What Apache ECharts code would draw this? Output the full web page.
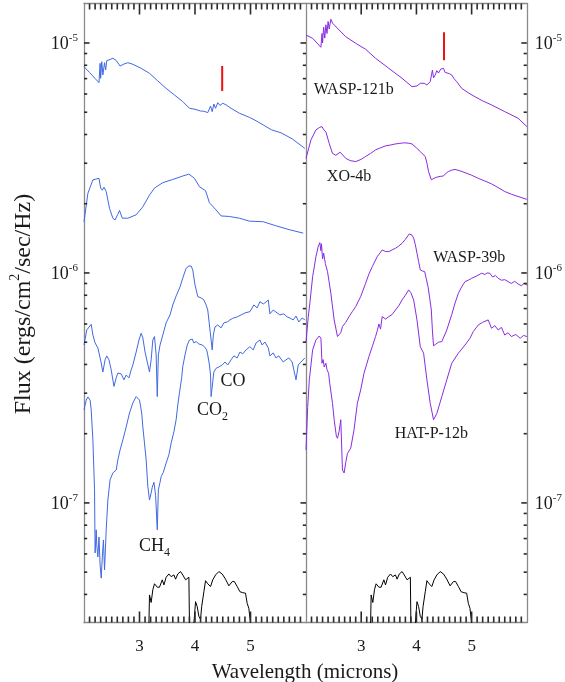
<!DOCTYPE html>
<html>
<head>
<meta charset="utf-8">
<title>Emission spectra</title>
<script src="https://cdn.jsdelivr.net/npm/echarts@6/dist/echarts.min.js"></script>
<style>
html, body { margin: 0; padding: 0; background: #ffffff; }
#chart { width: 565px; height: 682px; }
</style>
</head>
<body>
<div id="chart"></div>
<script>
// Spectra as [wavelength (microns), flux (ergs/cm^2/sec/Hz)]

// Left panel (blue)
const blueWasp121b = [[2.00,7.89e-6],[2.10,7.44e-6],[2.20,7.01e-6],[2.27,6.72e-6],[2.29,8.16e-6],[2.30,7.02e-6],[2.32,8.29e-6],[2.34,7.26e-6],[2.37,8.21e-6],[2.39,7.63e-6],[2.41,8.38e-6],[2.45,8.44e-6],[2.52,8.58e-6],[2.58,8.40e-6],[2.65,7.94e-6],[2.72,8.10e-6],[2.79,8.21e-6],[2.88,8.08e-6],[3.03,7.76e-6],[3.18,7.38e-6],[3.33,6.84e-6],[3.48,6.35e-6],[3.63,5.94e-6],[3.78,5.56e-6],[3.90,5.20e-6],[4.00,5.15e-6],[4.10,5.06e-6],[4.16,5.05e-6],[4.23,4.98e-6],[4.28,5.32e-6],[4.31,5.03e-6],[4.34,5.43e-6],[4.37,5.20e-6],[4.41,5.50e-6],[4.45,5.35e-6],[4.50,5.47e-6],[4.56,5.38e-6],[4.65,5.20e-6],[4.80,4.95e-6],[4.98,4.75e-6],[5.10,4.59e-6],[5.23,4.40e-6],[5.38,4.19e-6],[5.55,4.07e-6],[5.75,3.83e-6],[5.98,3.48e-6]];

const blueXO4b = [[2.00,1.67e-6],[2.07,2.22e-6],[2.16,2.54e-6],[2.27,2.58e-6],[2.30,2.34e-6],[2.33,2.29e-6],[2.36,2.36e-6],[2.40,2.26e-6],[2.46,1.91e-6],[2.52,1.73e-6],[2.56,1.70e-6],[2.61,1.80e-6],[2.64,1.87e-6],[2.69,1.73e-6],[2.79,1.73e-6],[2.94,1.79e-6],[3.06,1.94e-6],[3.18,2.18e-6],[3.27,2.34e-6],[3.42,2.47e-6],[3.60,2.55e-6],[3.78,2.64e-6],[3.89,2.69e-6],[3.99,2.58e-6],[4.08,2.37e-6],[4.19,2.28e-6],[4.26,2.02e-6],[4.38,1.88e-6],[4.47,1.77e-6],[4.62,1.76e-6],[4.80,1.73e-6],[4.98,1.68e-6],[5.23,1.67e-6],[5.47,1.60e-6],[5.71,1.54e-6],[5.95,1.49e-6]];

const blueWasp39b = [[2.00,4.86e-7],[2.05,5.65e-7],[2.13,5.98e-7],[2.16,5.37e-7],[2.20,4.96e-7],[2.25,4.72e-7],[2.31,4.06e-7],[2.34,3.71e-7],[2.38,4.19e-7],[2.41,4.36e-7],[2.45,4.19e-7],[2.49,3.79e-7],[2.54,3.21e-7],[2.58,3.50e-7],[2.61,3.67e-7],[2.67,3.64e-7],[2.72,3.43e-7],[2.76,3.60e-7],[2.81,3.50e-7],[2.85,3.79e-7],[2.88,3.98e-7],[2.94,4.53e-7],[2.99,5.11e-7],[3.03,5.47e-7],[3.06,5.22e-7],[3.10,4.53e-7],[3.14,4.10e-7],[3.18,3.71e-7],[3.21,4.19e-7],[3.24,5.11e-7],[3.27,5.29e-7],[3.30,4.40e-7],[3.32,2.90e-7],[3.34,4.40e-7],[3.37,4.86e-7],[3.42,5.37e-7],[3.48,6.07e-7],[3.55,6.57e-7],[3.60,7.26e-7],[3.66,7.94e-7],[3.73,8.69e-7],[3.78,9.51e-7],[3.84,1.048e-6],[3.89,1.072e-6],[3.93,1.072e-6],[3.96,1.031e-6],[4.00,8.87e-7],[4.05,7.89e-7],[4.11,7.79e-7],[4.16,7.63e-7],[4.20,7.26e-7],[4.23,6.90e-7],[4.26,5.94e-7],[4.29,5.11e-7],[4.31,4.63e-7],[4.33,5.37e-7],[4.36,5.82e-7],[4.41,5.94e-7],[4.47,5.77e-7],[4.52,6.07e-7],[4.58,6.12e-7],[4.63,6.25e-7],[4.68,6.35e-7],[4.76,6.44e-7],[4.83,6.57e-7],[4.90,6.70e-7],[4.99,6.79e-7],[5.06,7.26e-7],[5.12,7.05e-7],[5.17,7.50e-7],[5.23,7.33e-7],[5.28,7.48e-7],[5.32,7.63e-7],[5.35,6.64e-7],[5.41,6.90e-7],[5.48,6.70e-7],[5.53,6.57e-7],[5.60,6.64e-7],[5.66,6.44e-7],[5.71,6.37e-7],[5.77,6.25e-7],[5.82,6.50e-7],[5.87,6.12e-7],[5.93,6.37e-7],[5.98,6.25e-7]];

const blueHatP12b = [[2.00,2.54e-7],[2.04,2.80e-7],[2.07,2.89e-7],[2.11,2.80e-7],[2.13,2.54e-7],[2.16,1.88e-7],[2.19,1.14e-7],[2.20,6.06e-8],[2.22,7.64e-8],[2.23,6.57e-8],[2.25,5.82e-8],[2.27,7.11e-8],[2.29,5.37e-8],[2.31,4.71e-8],[2.33,5.82e-8],[2.35,6.90e-8],[2.37,5.11e-8],[2.40,7.64e-8],[2.43,1.03e-7],[2.47,1.26e-7],[2.52,1.35e-7],[2.58,1.39e-7],[2.61,1.54e-7],[2.65,1.70e-7],[2.70,1.88e-7],[2.76,2.14e-7],[2.82,2.46e-7],[2.88,2.72e-7],[2.94,2.90e-7],[2.97,2.95e-7],[3.00,2.80e-7],[3.04,2.46e-7],[3.06,2.14e-7],[3.09,1.82e-7],[3.12,1.54e-7],[3.15,1.18e-7],[3.18,1.03e-7],[3.21,1.105e-7],[3.23,1.17e-7],[3.26,1.23e-7],[3.29,1.08e-7],[3.32,7.64e-8],[3.34,1.14e-7],[3.37,1.23e-7],[3.39,1.30e-7],[3.43,1.36e-7],[3.48,1.49e-7],[3.53,1.62e-7],[3.57,1.82e-7],[3.62,2.04e-7],[3.66,2.30e-7],[3.69,2.67e-7],[3.72,3.01e-7],[3.76,3.50e-7],[3.78,3.92e-7],[3.82,4.40e-7],[3.86,4.86e-7],[3.90,5.11e-7],[3.95,5.16e-7],[3.98,4.96e-7],[4.02,5.03e-7],[4.07,4.91e-7],[4.13,4.86e-7],[4.17,4.78e-7],[4.21,4.63e-7],[4.23,4.40e-7],[4.26,3.98e-7],[4.28,3.60e-7],[4.29,2.90e-7],[4.32,3.36e-7],[4.34,3.71e-7],[4.38,3.85e-7],[4.43,3.90e-7],[4.49,3.98e-7],[4.54,4.10e-7],[4.59,3.98e-7],[4.65,4.19e-7],[4.70,4.36e-7],[4.76,4.27e-7],[4.81,4.53e-7],[4.86,4.45e-7],[4.92,4.63e-7],[4.99,4.78e-7],[5.05,4.63e-7],[5.10,4.96e-7],[5.17,5.11e-7],[5.21,4.86e-7],[5.26,5.01e-7],[5.32,4.72e-7],[5.35,4.36e-7],[5.41,4.49e-7],[5.46,4.27e-7],[5.51,4.36e-7],[5.59,4.10e-7],[5.64,4.19e-7],[5.69,4.27e-7],[5.75,4.10e-7],[5.82,3.43e-7],[5.86,3.98e-7],[5.91,4.10e-7],[5.98,4.27e-7]];

// Right panel (purple)
const purpleWasp121b = [[2.00,1.083e-5],[2.12,1.048e-5],[2.27,9.58e-6],[2.29,1.10e-5],[2.30,1.00e-5],[2.32,1.17e-5],[2.34,1.05e-5],[2.36,1.20e-5],[2.38,1.10e-5],[2.40,1.24e-5],[2.42,1.15e-5],[2.45,1.268e-5],[2.48,1.22e-5],[2.51,1.218e-5],[2.60,1.139e-5],[2.72,1.065e-5],[2.90,9.97e-6],[3.08,9.39e-6],[3.26,8.58e-6],[3.50,7.76e-6],[3.74,7.02e-6],[3.92,6.46e-6],[4.01,6.50e-6],[4.04,6.62e-6],[4.07,6.68e-6],[4.10,6.55e-6],[4.14,6.68e-6],[4.19,6.57e-6],[4.25,6.79e-6],[4.29,7.63e-6],[4.31,7.05e-6],[4.34,7.26e-6],[4.37,7.58e-6],[4.40,7.40e-6],[4.44,7.70e-6],[4.49,7.76e-6],[4.52,7.45e-6],[4.55,7.50e-6],[4.60,7.35e-6],[4.64,7.26e-6],[4.68,7.00e-6],[4.73,6.79e-6],[4.82,6.35e-6],[4.95,6.05e-6],[5.06,5.84e-6],[5.20,5.60e-6],[5.36,5.38e-6],[5.60,5.03e-6],[5.84,4.71e-6],[6.00,4.33e-6]];

const purpleXO4b = [[2.00,3.15e-6],[2.09,3.79e-6],[2.18,4.19e-6],[2.25,4.30e-6],[2.29,4.33e-6],[2.32,4.20e-6],[2.36,4.11e-6],[2.42,3.66e-6],[2.48,3.31e-6],[2.54,3.25e-6],[2.57,3.23e-6],[2.62,3.35e-6],[2.65,3.31e-6],[2.72,3.15e-6],[2.80,3.08e-6],[2.90,3.05e-6],[3.00,3.12e-6],[3.08,3.21e-6],[3.17,3.31e-6],[3.26,3.43e-6],[3.35,3.50e-6],[3.44,3.57e-6],[3.53,3.60e-6],[3.62,3.64e-6],[3.70,3.66e-6],[3.77,3.68e-6],[3.85,3.67e-6],[3.92,3.64e-6],[4.00,3.50e-6],[4.07,3.37e-6],[4.16,3.21e-6],[4.19,3.00e-6],[4.22,2.76e-6],[4.27,2.54e-6],[4.32,2.58e-6],[4.37,2.61e-6],[4.43,2.63e-6],[4.49,2.64e-6],[4.54,2.72e-6],[4.58,2.76e-6],[4.64,2.80e-6],[4.70,2.82e-6],[4.79,2.78e-6],[4.88,2.73e-6],[5.00,2.66e-6],[5.12,2.58e-6],[5.24,2.51e-6],[5.36,2.44e-6],[5.48,2.35e-6],[5.60,2.26e-6],[5.72,2.20e-6],[5.84,2.15e-6],[6.00,2.09e-6]];

const purpleWasp39b = [[2.00,5.00e-7],[2.04,6.40e-7],[2.07,7.40e-7],[2.12,9.63e-7],[2.18,1.177e-6],[2.22,1.30e-6],[2.25,1.355e-6],[2.27,1.25e-6],[2.28,1.34e-6],[2.30,1.15e-6],[2.32,1.22e-6],[2.35,1.10e-6],[2.39,1.013e-6],[2.45,8.16e-7],[2.51,6.25e-7],[2.57,5.29e-7],[2.60,5.20e-7],[2.63,5.50e-7],[2.66,5.84e-7],[2.72,6.10e-7],[2.78,6.46e-7],[2.84,6.80e-7],[2.90,7.14e-7],[2.99,7.89e-7],[3.08,9.02e-7],[3.14,9.90e-7],[3.20,1.065e-6],[3.29,1.177e-6],[3.38,1.259e-6],[3.44,1.24e-6],[3.50,1.238e-6],[3.56,1.26e-6],[3.62,1.28e-6],[3.68,1.31e-6],[3.74,1.346e-6],[3.80,1.40e-6],[3.87,1.478e-6],[3.92,1.46e-6],[3.95,1.416e-6],[3.98,1.33e-6],[4.01,1.219e-6],[4.04,1.12e-6],[4.07,1.031e-6],[4.11,1.02e-6],[4.15,1.013e-6],[4.18,9.40e-7],[4.21,8.72e-7],[4.24,7.80e-7],[4.27,6.90e-7],[4.29,5.60e-7],[4.31,4.82e-7],[4.35,4.90e-7],[4.40,5.00e-7],[4.46,5.03e-7],[4.55,5.65e-7],[4.64,6.60e-7],[4.70,7.40e-7],[4.76,8.16e-7],[4.82,8.70e-7],[4.88,9.17e-7],[4.94,9.30e-7],[5.00,9.48e-7],[5.09,9.70e-7],[5.18,9.97e-7],[5.24,9.85e-7],[5.28,1.00e-6],[5.33,9.97e-7],[5.38,9.60e-7],[5.43,9.75e-7],[5.48,9.48e-7],[5.54,9.30e-7],[5.60,9.35e-7],[5.66,9.17e-7],[5.72,9.00e-7],[5.78,9.20e-7],[5.84,8.96e-7],[5.90,8.80e-7],[5.95,9.00e-7],[6.00,8.87e-7]];

const purpleHatP12b = [[2.00,1.70e-7],[2.03,2.60e-7],[2.06,3.43e-7],[2.12,4.63e-7],[2.18,5.11e-7],[2.24,5.32e-7],[2.27,5.20e-7],[2.29,4.05e-7],[2.31,4.20e-7],[2.33,3.90e-7],[2.36,4.05e-7],[2.38,3.80e-7],[2.41,3.66e-7],[2.43,3.31e-7],[2.48,2.71e-7],[2.51,2.30e-7],[2.55,1.95e-7],[2.57,1.91e-7],[2.60,2.05e-7],[2.63,2.30e-7],[2.66,1.39e-7],[2.69,1.35e-7],[2.72,1.50e-7],[2.75,1.64e-7],[2.78,1.62e-7],[2.81,1.73e-7],[2.87,2.08e-7],[2.93,2.71e-7],[2.99,3.10e-7],[3.05,3.66e-7],[3.14,4.33e-7],[3.20,4.78e-7],[3.26,5.29e-7],[3.29,5.60e-7],[3.32,6.00e-7],[3.35,5.70e-7],[3.38,6.46e-7],[3.44,6.30e-7],[3.50,6.46e-7],[3.56,6.60e-7],[3.62,6.90e-7],[3.68,7.20e-7],[3.74,7.63e-7],[3.80,8.00e-7],[3.86,8.44e-7],[3.90,8.20e-7],[3.95,7.63e-7],[4.01,6.25e-7],[4.07,4.78e-7],[4.13,4.48e-7],[4.19,3.43e-7],[4.25,2.71e-7],[4.31,2.30e-7],[4.37,2.45e-7],[4.46,2.90e-7],[4.55,3.43e-7],[4.64,4.05e-7],[4.76,4.48e-7],[4.88,4.86e-7],[4.97,5.20e-7],[5.03,5.56e-7],[5.12,5.94e-7],[5.20,6.10e-7],[5.30,6.25e-7],[5.36,5.75e-7],[5.42,5.90e-7],[5.48,5.65e-7],[5.54,5.80e-7],[5.60,5.37e-7],[5.66,5.50e-7],[5.72,5.29e-7],[5.80,5.40e-7],[5.88,5.20e-7],[5.94,5.35e-7],[6.00,5.29e-7]];

// Spitzer IRAC bandpass outlines (drawn in both panels)
const irac36 = [[3.17,3.0e-8],[3.18,3.98e-8],[3.21,3.69e-8],[3.24,4.19e-8],[3.27,4.45e-8],[3.32,4.30e-8],[3.36,4.30e-8],[3.41,4.63e-8],[3.44,4.40e-8],[3.48,4.75e-8],[3.53,4.91e-8],[3.57,4.78e-8],[3.62,4.86e-8],[3.65,4.66e-8],[3.69,4.91e-8],[3.74,5.03e-8],[3.78,4.86e-8],[3.83,4.63e-8],[3.86,4.71e-8],[3.89,4.75e-8],[3.90,3.0e-8]];
const irac45 = [[3.98,3.0e-8],[4.01,3.72e-8],[4.04,3.54e-8],[4.07,3.21e-8],[4.10,3.12e-8],[4.12,3.54e-8],[4.16,4.11e-8],[4.19,4.59e-8],[4.23,4.45e-8],[4.28,4.33e-8],[4.32,4.63e-8],[4.37,4.86e-8],[4.43,5.03e-8],[4.49,4.91e-8],[4.55,4.66e-8],[4.61,4.36e-8],[4.67,4.55e-8],[4.71,4.55e-8],[4.76,4.33e-8],[4.81,4.11e-8],[4.86,4.07e-8],[4.91,4.05e-8],[4.94,3.66e-8],[4.97,3.48e-8],[4.98,3.54e-8],[5.00,3.0e-8]];

// 4.5 micron markers
const markerLeft = [[4.49,6.18e-6],[4.49,7.94e-6]];
const markerRight = [[4.50,8.41e-6],[4.50,1.113e-5]];

// Axis ranges and tick labels
const wavelengthRange = [2, 6];
const wavelengthLabels = [3, 4, 5];
const fluxRange = [3.02e-8, 1.485e-5];
const fluxDecades = [1e-7, 1e-6, 1e-5];

// Text annotations, anchored in data coordinates
const annotations = [
  { panel: 1, text: 'WASP-121b', wl: 2.865, flux: 6.25e-6 },
  { panel: 1, text: 'XO-4b', wl: 2.78, flux: 2.62e-6 },
  { panel: 1, text: 'WASP-39b', wl: 4.955, flux: 1.16e-6 },
  { panel: 1, text: 'HAT-P-12b', wl: 4.27, flux: 2.0e-7 },
  { panel: 0, text: 'CO', wl: 4.685, flux: 3.39e-7 },
  { panel: 0, text: 'CO', sub: '2', wl: 4.315, flux: 2.49e-7 },
  { panel: 0, text: 'CH', sub: '4', wl: 3.27, flux: 6.37e-8 }
];

const FONT = '"Liberation Serif", "Times New Roman", serif';
const TEXT = '#1a1a1a';
const FRAME = '#8a8a8a';
const TICK = '#2a2a2a';
const BLUE = '#4169e1';
const PURPLE = '#8a2be2';

// tick positions: wavelength ticks every 0.1 micron (longer at whole microns),
// flux ticks at 2..9 x 10^n (shorter) and at each decade
const wavelengthMinor = [];
for (let i = wavelengthRange[0] * 10 + 1; i < wavelengthRange[1] * 10; i++) {
  if (i % 10 !== 0) wavelengthMinor.push(i / 10);
}
const fluxMinor = [];
for (let e = -8; e <= -5; e++) {
  for (let k = 2; k <= 9; k++) {
    const v = k * Math.pow(10, e);
    if (v >= fluxRange[0] && v <= fluxRange[1]) fluxMinor.push(v);
  }
}

const chart = echarts.init(document.getElementById('chart'), null, { renderer: 'canvas' });

function waveAxis(gridIndex, position, withLabels) {
  return {
    type: 'value', gridIndex, position,
    min: wavelengthRange[0], max: wavelengthRange[1], interval: 1,
    axisLine: { show: true, onZero: false, lineStyle: { color: FRAME, width: 1.3 } },
    axisTick: { show: false }, minorTick: { show: false },
    splitLine: { show: false }, minorSplitLine: { show: false },
    axisLabel: {
      show: !!withLabels, margin: 16, fontFamily: FONT, fontSize: 17, color: TEXT,
      formatter: v => wavelengthLabels.indexOf(v) >= 0 ? String(v) : ''
    }
  };
}

const supRich = {
  b: { fontSize: 18, fontFamily: FONT, color: TEXT, verticalAlign: 'bottom', lineHeight: 21 },
  s: { fontSize: 11, fontFamily: FONT, color: TEXT, verticalAlign: 'top', lineHeight: 21 }
};

function fluxAxis(gridIndex, position, withLabels, labelMargin) {
  return {
    type: 'log', logBase: 10, gridIndex, position,
    min: fluxRange[0], max: fluxRange[1],
    axisLine: { show: true, onZero: false, lineStyle: { color: FRAME, width: 1.3 } },
    axisTick: { show: false }, minorTick: { show: false },
    splitLine: { show: false }, minorSplitLine: { show: false },
    axisLabel: {
      show: !!withLabels, margin: labelMargin || 6, customValues: fluxDecades,
      formatter: v => '{b|10}{s|' + Math.round(Math.log10(v)) + '}',
      rich: supRich
    }
  };
}

function line(data, color, xAxisIndex, yAxisIndex, width) {
  return {
    type: 'line', data, xAxisIndex, yAxisIndex,
    showSymbol: false, symbol: 'none', silent: true, clip: true,
    lineStyle: { color, width: width || 1 },
    emphasis: { disabled: true }, z: 3
  };
}

const series = [
  line(blueWasp121b, BLUE, 0, 0),
  line(blueXO4b, BLUE, 0, 0),
  line(blueWasp39b, BLUE, 0, 0),
  line(blueHatP12b, BLUE, 0, 0),
  line(irac36, '#000000', 0, 0),
  line(irac45, '#000000', 0, 0),
  line(markerLeft, '#ee1111', 0, 0, 2),
  line(purpleWasp121b, PURPLE, 2, 2),
  line(purpleXO4b, PURPLE, 2, 2),
  line(purpleWasp39b, PURPLE, 2, 2),
  line(purpleHatP12b, PURPLE, 2, 2),
  line(irac36, '#000000', 2, 2),
  line(irac45, '#000000', 2, 2),
  line(markerRight, '#ee1111', 2, 2, 2)
];

chart.setOption({
  animation: false,
  backgroundColor: '#ffffff',
  textStyle: { fontFamily: FONT },
  grid: [
    { left: 84, top: 3.5, width: 222, height: 619 },
    { left: 306, top: 3.5, width: 222, height: 619 }
  ],
  xAxis: [
    waveAxis(0, 'bottom', true),
    waveAxis(0, 'top', false),
    waveAxis(1, 'bottom', true),
    waveAxis(1, 'top', false)
  ],
  yAxis: [
    fluxAxis(0, 'left', true, 6),    // 0
    fluxAxis(0, 'right', false),     // 1
    fluxAxis(1, 'right', true, 8)    // 2
  ],
  series
});

const panelAxes = [{ xAxisIndex: 0, yAxisIndex: 0 }, { xAxisIndex: 2, yAxisIndex: 2 }];
const toPx = (panel, wl, flux) => chart.convertToPixel(panelAxes[panel], [wl, flux]);
const fromPx = (panel, x, y) => chart.convertFromPixel(panelAxes[panel], [x, y]);
const graphics = [];

// Annotations
annotations.forEach(a => {
  const p = toPx(a.panel, a.wl, a.flux);
  const isSpecies = a.panel === 0;
  const text = a.sub ? '{m|' + a.text + '}{u|' + a.sub + '}' : '{m|' + a.text + '}';
  graphics.push({
    type: 'text', x: p[0], y: p[1], silent: true, z: 10,
    style: {
      text, align: 'center', verticalAlign: 'middle', fill: TEXT,
      rich: {
        m: { fontSize: isSpecies ? 18 : 16, fontFamily: FONT, fill: TEXT,
             verticalAlign: a.sub ? 'top' : 'middle', lineHeight: a.sub ? 22 : 18 },
        u: { fontSize: 12, fontFamily: FONT, fill: TEXT, verticalAlign: 'bottom', lineHeight: 22 }
      }
    }
  });
});

// Axis titles
graphics.push({
  type: 'text', x: 305, y: 672, silent: true,
  style: { text: 'Wavelength (microns)', fontSize: 21, fontFamily: FONT, fill: TEXT,
           align: 'center', verticalAlign: 'middle' }
});
graphics.push({
  type: 'text', x: 22, y: 304, rotation: Math.PI / 2, silent: true,
  style: {
    text: '{a|Flux (ergs/cm}{s|2}{a|/sec/Hz)}', align: 'center', verticalAlign: 'middle',
    rich: {
      a: { fontSize: 24, fontFamily: FONT, fill: TEXT, verticalAlign: 'bottom', lineHeight: 28 },
      s: { fontSize: 14, fontFamily: FONT, fill: TEXT, verticalAlign: 'top', lineHeight: 28 }
    }
  }
});

chart.setOption({ graphic: graphics });

// Inward tick marks on the panel frames: one short two-point line per tick, in axis units
try {
  const tickSeries = [];
  const addTick = (panel, a, b) => {
    tickSeries.push({
      type: 'line', data: [a, b],
      xAxisIndex: panelAxes[panel].xAxisIndex, yAxisIndex: panelAxes[panel].yAxisIndex,
      showSymbol: false, symbol: 'none', silent: true, clip: false,
      lineStyle: { color: TICK, width: 1.6 }, emphasis: { disabled: true }, z: 6
    });
  };
  [0, 1].forEach(panel => {
    [[wavelengthLabels, 11], [wavelengthMinor, 6]].forEach(([values, len]) => {
      values.forEach(wl => {
        const b = toPx(panel, wl, fluxRange[0]);
        const t = toPx(panel, wl, fluxRange[1]);
        addTick(panel, [wl, fluxRange[0]], [wl, fromPx(panel, b[0], b[1] - len)[1]]);
        addTick(panel, [wl, fluxRange[1]], [wl, fromPx(panel, t[0], t[1] + len)[1]]);
      });
    });
    const edges = panel === 0
      ? [[wavelengthRange[0], 1], [wavelengthRange[1], -1]]
      : [[wavelengthRange[1], -1]];
    [[fluxDecades, 5.5], [fluxMinor, 3.2]].forEach(([values, len]) => {
      values.forEach(f => {
        edges.forEach(([wl, dir]) => {
          const p = toPx(panel, wl, f);
          addTick(panel, [wl, f], [fromPx(panel, p[0] + dir * len, p[1])[0], f]);
        });
      });
    });
  });
  chart.setOption({ series: series.concat(tickSeries) });
} catch (e) {
  // ticks are decoration only; keep the chart if they cannot be placed
}
</script>
</body>
</html>
